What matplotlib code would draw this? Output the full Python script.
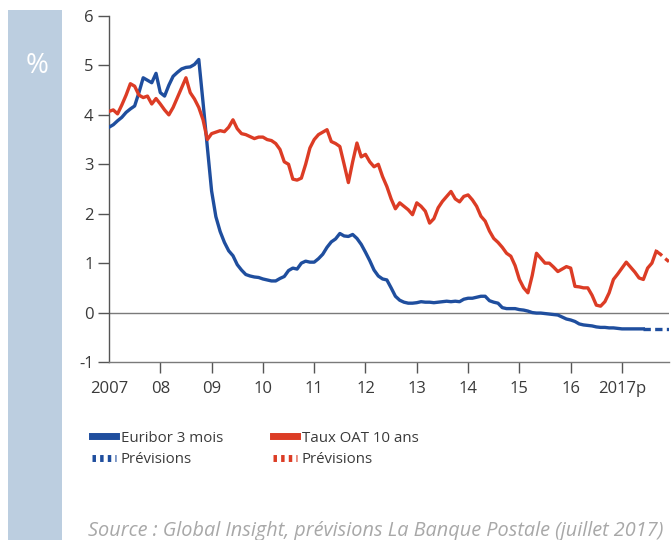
"""Euribor 3 mois vs taux OAT 10 ans, 2007-2017 avec prévisions."""

import numpy as np
import matplotlib

matplotlib.use("Agg")
import matplotlib.pyplot as plt
from matplotlib.lines import Line2D
from matplotlib.patches import Rectangle

# Monthly series, Jan 2007 -> Dec 2017 (%)
euribor_3m = [
    3.75, 3.80, 3.88, 3.95, 4.05, 4.12, 4.18, 4.45, 4.75, 4.70, 4.65, 4.84,  # 2007
    4.45, 4.38, 4.60, 4.78, 4.86, 4.93, 4.96, 4.97, 5.02, 5.12, 4.25, 3.35,  # 2008
    2.46, 1.94, 1.64, 1.42, 1.25, 1.15, 0.97, 0.86, 0.77, 0.74, 0.72, 0.71,  # 2009
    0.68, 0.66, 0.64, 0.64, 0.69, 0.73, 0.85, 0.90, 0.88, 1.00, 1.04, 1.02,  # 2010
    1.02, 1.09, 1.18, 1.32, 1.43, 1.49, 1.60, 1.55, 1.54, 1.58, 1.50, 1.38,  # 2011
    1.22, 1.05, 0.86, 0.74, 0.68, 0.66, 0.50, 0.33, 0.25, 0.21, 0.19, 0.19,  # 2012
    0.20, 0.22, 0.21, 0.21, 0.20, 0.21, 0.22, 0.23, 0.22, 0.23, 0.22, 0.27,  # 2013
    0.29, 0.29, 0.31, 0.33, 0.33, 0.24, 0.21, 0.19, 0.10, 0.08, 0.08, 0.08,  # 2014
    0.06, 0.05, 0.03, 0.00, -0.01, -0.01, -0.02, -0.03, -0.04, -0.05, -0.09, -0.13,  # 2015
    -0.15, -0.18, -0.23, -0.25, -0.26, -0.27, -0.29, -0.30, -0.30, -0.31, -0.31, -0.32,  # 2016
    -0.33, -0.33, -0.33, -0.33, -0.33, -0.33, -0.33, -0.33, -0.33, -0.33, -0.33, -0.33,  # 2017
]
oat_10y = [
    4.07, 4.10, 4.02, 4.20, 4.40, 4.63, 4.58, 4.40, 4.35, 4.38, 4.22, 4.33,  # 2007
    4.22, 4.10, 4.00, 4.15, 4.35, 4.55, 4.75, 4.45, 4.32, 4.15, 3.90, 3.50,  # 2008
    3.62, 3.65, 3.68, 3.66, 3.75, 3.90, 3.72, 3.62, 3.60, 3.56, 3.52, 3.55,  # 2009
    3.55, 3.50, 3.48, 3.42, 3.30, 3.05, 3.00, 2.70, 2.68, 2.72, 3.00, 3.33,  # 2010
    3.50, 3.60, 3.65, 3.70, 3.46, 3.42, 3.36, 3.00, 2.63, 3.05, 3.43, 3.15,  # 2011
    3.20, 3.05, 2.95, 3.00, 2.75, 2.55, 2.30, 2.10, 2.22, 2.15, 2.08, 1.98,  # 2012
    2.22, 2.15, 2.05, 1.81, 1.90, 2.12, 2.25, 2.35, 2.45, 2.30, 2.24, 2.35,  # 2013
    2.38, 2.28, 2.15, 1.95, 1.85, 1.65, 1.50, 1.42, 1.32, 1.20, 1.14, 0.95,  # 2014
    0.67, 0.50, 0.40, 0.75, 1.20, 1.10, 1.00, 1.00, 0.92, 0.83, 0.88, 0.93,  # 2015
    0.90, 0.53, 0.52, 0.50, 0.50, 0.35, 0.15, 0.13, 0.22, 0.40, 0.67, 0.78,  # 2016
    0.90, 1.02, 0.92, 0.82, 0.70, 0.67, 0.90, 1.00, 1.24, 1.18, 1.10, 1.03,  # 2017
]
# index of the first forecast month for each series
euribor_fc_start = 125  # juin 2017
oat_fc_start = 128      # sept. 2017

year_ticks = [2007, 2008, 2009, 2010, 2011, 2012, 2013, 2014, 2015, 2016, 2017]
year_labels = ["2007", "08", "09", "10", "11", "12", "13", "14", "15", "16", "2017p"]
y_ticks = [-1, 0, 1, 2, 3, 4, 5, 6]

BLUE = "#1f4e9e"
RED = "#dc3c25"
GREY = "#7a7a7a"
TEXT = "#3a3a3a"

t = 2007 + np.arange(len(euribor_3m)) / 12.0
eur = np.array(euribor_3m)
oat = np.array(oat_10y)

fig = plt.figure(figsize=(6.71, 5.40), dpi=100)

# side band with the unit
fig.patches.append(Rectangle((8 / 671, 0), 54 / 671, 1 - 10 / 540,
                             transform=fig.transFigure, facecolor="#bccee0",
                             edgecolor="none", zorder=0))
fig.text(37 / 671, 1 - 66 / 540, "%", color="white", fontsize=20,
         ha="center", va="center", family="Open Sans")

ax = fig.add_axes([109 / 671, 1 - 362 / 540, 560 / 671, 346 / 540])
ax.set_xlim(2007, t[-1])
ax.set_ylim(-1, 6)

lw = 2.4
dash = (0, (2.2, 1.3))
ax.plot(t[:euribor_fc_start + 1], eur[:euribor_fc_start + 1], color=BLUE, lw=lw,
        solid_joinstyle="round", zorder=3)
ax.plot(t[euribor_fc_start:], eur[euribor_fc_start:], color=BLUE, lw=lw,
        linestyle=dash, zorder=3)
ax.plot(t[:oat_fc_start + 1], oat[:oat_fc_start + 1], color=RED, lw=lw,
        solid_joinstyle="round", zorder=3)
ax.plot(t[oat_fc_start:], oat[oat_fc_start:], color=RED, lw=lw,
        linestyle=dash, zorder=3)

ax.axhline(0, color=GREY, lw=1.0, zorder=1)

for side in ("top", "right"):
    ax.spines[side].set_visible(False)
ax.spines["left"].set_color("#555555")
ax.spines["bottom"].set_color(GREY)
ax.spines["left"].set_linewidth(1.0)
ax.spines["bottom"].set_linewidth(1.0)

ax.set_yticks(y_ticks)
ax.set_yticklabels([str(v) for v in y_ticks])
ax.set_xticks(year_ticks)
ax.set_xticklabels(year_labels)
ax.tick_params(axis="y", length=8, width=1.0, color="#555555", labelsize=12,
               labelcolor=TEXT, pad=3)
ax.tick_params(axis="x", length=8, width=1.0, color="#555555", labelsize=12,
               labelcolor=TEXT, pad=6)
ax.xaxis.get_major_ticks()[0].tick1line.set_visible(False)
for lab in ax.get_xticklabels() + ax.get_yticklabels():
    lab.set_family("Open Sans")

handles = [
    Line2D([], [], color=BLUE, lw=5),
    Line2D([], [], color=BLUE, lw=5, linestyle=(0, (0.5, 0.6))),
    Line2D([], [], color=RED, lw=5),
    Line2D([], [], color=RED, lw=5, linestyle=(0, (0.5, 0.6))),
]
labels = ["Euribor 3 mois", "Prévisions", "Taux OAT 10 ans", "Prévisions"]
fig.legend(handles, labels, ncol=2, loc="upper left",
           bbox_to_anchor=(78 / 671, 1 - 417 / 540), frameon=False,
           prop={"family": "Open Sans", "size": 10.8}, labelcolor=TEXT,
           handlelength=1.6, handletextpad=0.35, columnspacing=3.3,
           labelspacing=0.45)

fig.text(88 / 671, 1 - 521 / 540,
         "Source : Global Insight, prévisions La Banque Postale (juillet 2017)",
         fontsize=14.3, style="italic", color="#a8a8a8", family="Open Sans",
         ha="left", va="top")

fig.savefig("out.png", dpi=100)
